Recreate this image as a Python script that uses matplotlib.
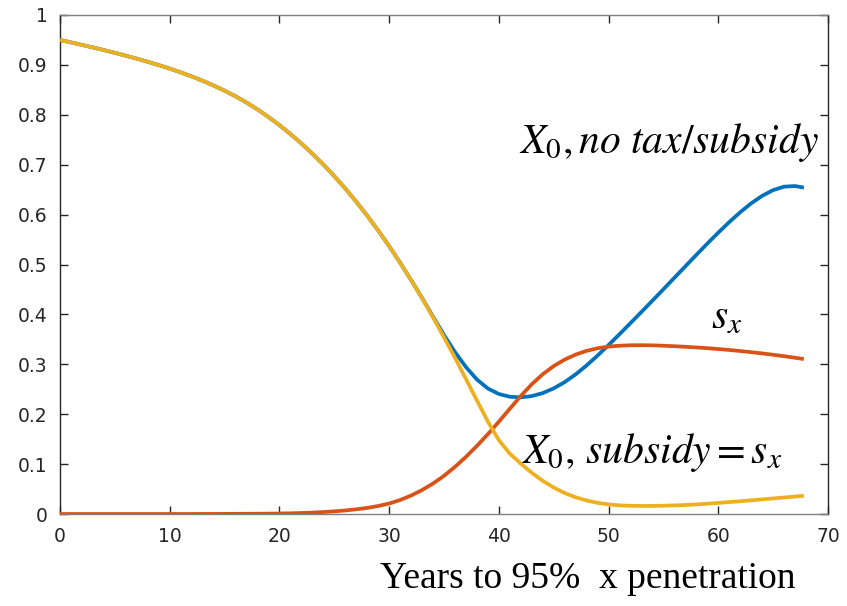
import matplotlib
matplotlib.use("Agg")
import matplotlib.pyplot as plt

# Years to 95% penetration of x (yearly samples)
years = list(range(0, 68)) + [67.8]

# X0 share without any tax or subsidy
x0_no_tax = [0.9500, 0.9451, 0.9401, 0.9350, 0.9297, 0.9242, 0.9185, 0.9125, 0.9062, 0.8996,
             0.8926, 0.8851, 0.8770, 0.8682, 0.8587, 0.8484, 0.8371, 0.8246, 0.8108, 0.7957,
             0.7793, 0.7616, 0.7426, 0.7222, 0.7004, 0.6771, 0.6523, 0.6259, 0.5979, 0.5682,
             0.5368, 0.5037, 0.4689, 0.4330, 0.3955, 0.3585, 0.3245, 0.2945, 0.2695, 0.2515,
             0.2405, 0.2350, 0.2338, 0.2363, 0.2423, 0.2518, 0.2643, 0.2798, 0.2978, 0.3176,
             0.3386, 0.3604, 0.3826, 0.4050, 0.4276, 0.4504, 0.4734, 0.4964, 0.5193, 0.5419,
             0.5639, 0.5850, 0.6048, 0.6226, 0.6376, 0.6491, 0.6560, 0.6572, 0.6540]

# X0 share when the subsidy equals s_x
x0_subsidy = [0.9500, 0.9451, 0.9401, 0.9350, 0.9297, 0.9242, 0.9185, 0.9125, 0.9062, 0.8996,
              0.8926, 0.8851, 0.8770, 0.8682, 0.8587, 0.8484, 0.8371, 0.8246, 0.8108, 0.7957,
              0.7793, 0.7616, 0.7426, 0.7222, 0.7004, 0.6771, 0.6523, 0.6259, 0.5979, 0.5682,
              0.5368, 0.5037, 0.4689, 0.4325, 0.3940, 0.3540, 0.3130, 0.2705, 0.2277, 0.1852,
              0.1480, 0.1210, 0.1010, 0.0825, 0.0665, 0.0530, 0.0420, 0.0335, 0.0270, 0.0223,
              0.0192, 0.0173, 0.0164, 0.0161, 0.0162, 0.0166, 0.0172, 0.0180, 0.0192, 0.0206,
              0.0222, 0.0239, 0.0256, 0.0274, 0.0293, 0.0312, 0.0331, 0.0350, 0.0366]

# Optimal subsidy s_x
s_x = [0.0000, 0.0000, 0.0000, 0.0000, 0.0000, 0.0000, 0.0000, 0.0000, 0.0000, 0.0000,
       0.0000, 0.0000, 0.0000, 0.0001, 0.0001, 0.0002, 0.0003, 0.0004, 0.0005, 0.0007,
       0.0010, 0.0014, 0.0020, 0.0028, 0.0039, 0.0053, 0.0071, 0.0094, 0.0122, 0.0160,
       0.0210, 0.0280, 0.0370, 0.0480, 0.0610, 0.0765, 0.0945, 0.1145, 0.1365, 0.1600,
       0.1850, 0.2110, 0.2365, 0.2600, 0.2800, 0.2965, 0.3095, 0.3195, 0.3270, 0.3322,
       0.3355, 0.3373, 0.3381, 0.3383, 0.3380, 0.3372, 0.3362, 0.3351, 0.3338, 0.3323,
       0.3306, 0.3287, 0.3266, 0.3243, 0.3218, 0.3191, 0.3162, 0.3131, 0.3105]

x_ticks = [0, 10, 20, 30, 40, 50, 60, 70]
y_ticks = [0, 0.1, 0.2, 0.3, 0.4, 0.5, 0.6, 0.7, 0.8, 0.9, 1]
y_tick_labels = ["0", "0.1", "0.2", "0.3", "0.4", "0.5", "0.6", "0.7", "0.8", "0.9", "1"]

plt.rcParams["mathtext.fontset"] = "stix"
plt.rcParams["font.family"] = ["DejaVu Sans"]

W, H = 847, 606
fig = plt.figure(figsize=(W / 100, H / 100), dpi=100)
ax = fig.add_axes([60 / W, 1 - 514 / H, (828 - 60) / W, (514 - 15) / H])

lw = 2.7
ax.plot(years, x0_no_tax, color="#0072BD", lw=lw, solid_capstyle="butt",
        solid_joinstyle="round", zorder=3)
ax.plot(years, s_x, color="#D95319", lw=lw, solid_capstyle="butt",
        solid_joinstyle="round", zorder=4)
ax.plot(years, x0_subsidy, color="#EDB120", lw=lw, solid_capstyle="butt",
        solid_joinstyle="round", zorder=5)

ax.set_xlim(0, 70)
ax.set_ylim(0, 1)
ax.set_xticks(x_ticks)
ax.set_xticklabels([str(t) for t in x_ticks])
ax.set_yticks(y_ticks)
ax.set_yticklabels(y_tick_labels)

axis_col = "#262626"
ax.tick_params(direction="in", length=6, width=1.0, colors=axis_col,
               labelsize=13.5, top=True, right=True)
ax.tick_params(axis="y", pad=9)
ax.tick_params(axis="x", pad=9)
for side in ("left", "right"):
    ax.spines[side].set_color(axis_col)
    ax.spines[side].set_linewidth(1.0)
for side in ("top", "bottom"):
    ax.spines[side].set_color("#808080")
    ax.spines[side].set_linewidth(1.0)

# Curve annotations
ax.text(41.84, 0.7234, r"$X_0, no\ tax/subsidy$", fontsize=30, color="black",
        va="baseline", ha="left", clip_on=False)
ax.text(59.3, 0.3727, r"$s_x$", fontsize=30, color="black",
        va="baseline", ha="left")
ax.text(42.0, 0.1022, r"$X_0,\,subsidy = s_x$", fontsize=30, color="black",
        va="baseline", ha="left")

fig.text(380 / W, 1 - 588 / H, "Years to 95%  x penetration",
         family="Liberation Serif", fontsize=27, color="black",
         ha="left", va="baseline")

fig.savefig("out.png", dpi=100, facecolor="white")
